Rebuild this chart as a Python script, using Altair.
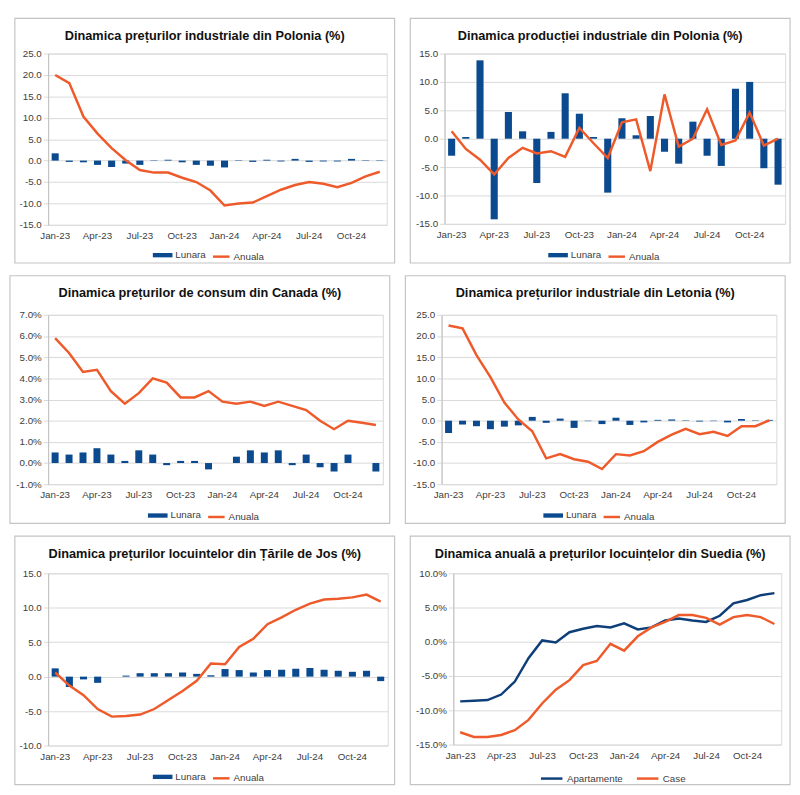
import altair as alt
import pandas as pd

MONTHS = ['Jan-23', 'Feb-23', 'Mar-23', 'Apr-23', 'May-23', 'Jun-23',
          'Jul-23', 'Aug-23', 'Sep-23', 'Oct-23', 'Nov-23', 'Dec-23',
          'Jan-24', 'Feb-24', 'Mar-24', 'Apr-24', 'May-24', 'Jun-24',
          'Jul-24', 'Aug-24', 'Sep-24', 'Oct-24', 'Nov-24', 'Dec-24']
XTICKS = ['Jan-23', 'Apr-23', 'Jul-23', 'Oct-23', 'Jan-24', 'Apr-24', 'Jul-24', 'Oct-24']

# Polonia - preturi industriale
pl_ppi_lunara = [1.7, -0.3, -0.4, -1.0, -1.5, -0.7, -1.0, -0.1, 0.2, -0.4, -1.0, -1.2,
                 -1.6, 0.1, -0.3, 0.2, -0.2, 0.4, -0.3, -0.2, -0.2, 0.4, 0.1, -0.1]
pl_ppi_anuala = [20.0, 18.1, 10.3, 6.3, 2.9, 0.1, -2.2, -2.8, -2.8, -4.0, -5.0, -7.0,
                 -10.5, -10.0, -9.8, -8.3, -6.8, -5.7, -5.0, -5.4, -6.2, -5.2, -3.7, -2.6]

# Polonia - productie industriala
pl_ip_lunara = [-3.0, 0.3, 13.8, -14.2, 4.7, 1.3, -7.8, 1.2, 8.0, 4.4, 0.3, -9.5,
                3.6, 0.6, 4.0, -2.3, -4.4, 3.0, -3.0, -4.8, 8.8, 10.0, -5.2, -8.1]
pl_ip_anuala = [1.3, -1.8, -3.7, -6.3, -3.4, -1.6, -2.6, -2.2, -3.2, 1.9, -0.8, -3.4,
                2.9, 3.4, -5.7, 7.8, -1.4, 0.0, 5.2, -1.1, -0.3, 4.6, -1.2, 0.0]

# Canada - preturi de consum
ca_cpi_lunara = [0.5, 0.4, 0.5, 0.7, 0.4, 0.1, 0.6, 0.4, -0.1, 0.1, 0.1, -0.3,
                 0.0, 0.3, 0.6, 0.5, 0.6, -0.1, 0.4, -0.2, -0.4, 0.4, 0.0, -0.4]
ca_cpi_anuala = [5.9, 5.2, 4.3, 4.4, 3.4, 2.8, 3.3, 4.0, 3.8, 3.1, 3.1, 3.4,
                 2.9, 2.8, 2.9, 2.7, 2.9, 2.7, 2.5, 2.0, 1.6, 2.0, 1.9, 1.8]

# Letonia - preturi industriale
lv_ppi_lunara = [-2.9, -0.9, -1.3, -2.0, -1.4, -1.1, 0.9, -0.5, 0.5, -1.7, -0.1, -0.8,
                 0.7, -1.0, -0.4, 0.2, 0.3, 0.1, -0.2, -0.1, -0.4, 0.4, 0.1, 0.2]
lv_ppi_anuala = [22.5, 21.8, 15.5, 10.3, 4.3, 0.3, -2.5, -8.9, -7.9, -9.1, -9.7, -11.4,
                 -7.9, -8.2, -7.2, -5.0, -3.3, -1.9, -3.2, -2.6, -3.6, -1.3, -1.3, 0.1]

# Tarile de Jos - preturi locuinte
nl_hp_lunara = [1.2, -1.5, -0.4, -0.9, 0.0, 0.15, 0.5, 0.5, 0.5, 0.6, 0.4, 0.2,
                1.1, 0.95, 0.6, 0.95, 1.0, 1.15, 1.25, 1.0, 0.85, 0.7, 0.85, -0.65]
nl_hp_anuala = [0.6, -1.3, -2.7, -4.7, -5.8, -5.7, -5.5, -4.7, -3.4, -2.1, -0.6, 1.9,
                1.8, 4.3, 5.5, 7.6, 8.6, 9.7, 10.6, 11.2, 11.3, 11.5, 11.9, 10.9]

# Suedia - preturi locuinte (anual)
se_apartamente = [-8.7, -8.6, -8.5, -7.7, -5.8, -2.4, 0.2, -0.1, 1.4, 1.9, 2.3, 2.1,
                  2.7, 1.8, 2.1, 3.1, 3.4, 3.1, 2.9, 3.8, 5.6, 6.1, 6.8, 7.1]
se_case = [-13.2, -13.9, -13.9, -13.6, -12.9, -11.4, -9.0, -7.0, -5.6, -3.4, -2.8, -0.3,
           -1.3, 0.8, 2.1, 2.9, 3.9, 3.9, 3.5, 2.5, 3.6, 3.9, 3.6, 2.6]

BLUE = '#0b4a8e'
ORANGE = '#ee5a2a'
NAVY = '#0f3f78'
FONT = 'Liberation Sans'
TFONT = 'Liberation Sans'
LABEL_COLOR = '#404040'
ONE = pd.DataFrame({'f': [0]})


def num_expr(pct):
    base = "(datum.value < 0 ? '-' : '') + format(abs(datum.value), '.1f')"
    return base + (" + '%'" if pct else "")


def x_enc():
    return alt.X('m:N', scale=alt.Scale(domain=MONTHS, paddingInner=0.5, paddingOuter=0.25),
                 axis=alt.Axis(values=XTICKS, title=None, labelAngle=0, ticks=False, grid=False,
                               domain=False, labelPadding=6, labelOverlap=False))


def y_enc(lo, hi, step, pct):
    vals = [lo + i * step for i in range(int(round((hi - lo) / step)) + 1)]
    return alt.Y('v:Q', scale=alt.Scale(domain=[lo, hi], nice=False, zero=False),
                 axis=alt.Axis(values=vals, title=None, labelExpr=num_expr(pct), tickSize=5,
                               labelPadding=2, grid=True))


def legend(x, y, sym, off, **kw):
    return alt.Legend(orient='none', legendX=x, legendY=y, title=None, symbolType=sym,
                      symbolSize=144, labelFont=FONT, labelFontSize=10, labelColor=LABEL_COLOR,
                      labelOffset=off, padding=0, **kw)


def decor(title, W, H, L, R, T, B):
    FW = L + W + R
    frame = alt.Chart(ONE).mark_rect(fillOpacity=0, stroke='#c4c4c4', strokeWidth=1.2).encode(
        x=alt.value(-L), x2=alt.value(W + R), y=alt.value(-T), y2=alt.value(H + B))
    ttl = alt.Chart(ONE).mark_text(text=title, font=TFONT, fontWeight='bold', fontSize=13,
                                   align='center', baseline='alphabetic', color='#111111').encode(
        x=alt.value(-L + FW / 2), y=alt.value(-T + 22))
    return frame, ttl


def bar_line_panel(title, lunara, anuala, lo, hi, step, pct, W, H, L, R, T, B):
    FC = -L + (L + W + R) / 2
    cy = H + B - 8
    dfb = pd.DataFrame({'m': MONTHS, 'v': lunara, 's': 'Lunara'})
    dfl = pd.DataFrame({'m': MONTHS, 'v': anuala, 's': 'Anuala'})
    bars = alt.Chart(dfb).mark_bar().encode(
        x=x_enc(), y=y_enc(lo, hi, step, pct),
        fill=alt.Fill('s:N', scale=alt.Scale(domain=['Lunara'], range=[BLUE]),
                      legend=legend(FC - 49, cy - 6, 'M-1.67,-0.37H1.67V0.37H-1.67Z', 7,
                                    symbolStrokeWidth=0)))
    line = alt.Chart(dfl).mark_line(strokeWidth=2.5).encode(
        x=x_enc(), y=y_enc(lo, hi, step, pct),
        stroke=alt.Stroke('s:N', scale=alt.Scale(domain=['Anuala'], range=[ORANGE]),
                          legend=legend(FC + 9.4, cy - 6, 'M-1.4,0H1.4', 5,
                                        symbolStrokeWidth=2.5)))
    frame, ttl = decor(title, W, H, L, R, T, B)
    return alt.layer(frame, bars, line, ttl).properties(width=W, height=H)


def two_line_panel(title, a, b, lo, hi, step, pct, W, H, L, R, T, B):
    FC = -L + (L + W + R) / 2
    cy = H + B - 8
    df = pd.concat([pd.DataFrame({'m': MONTHS, 'v': a, 's': 'Apartamente'}),
                    pd.DataFrame({'m': MONTHS, 'v': b, 's': 'Case'})])
    lines = alt.Chart(df).mark_line(strokeWidth=2.5).encode(
        x=x_enc(), y=y_enc(lo, hi, step, pct),
        stroke=alt.Stroke('s:N', scale=alt.Scale(domain=['Apartamente', 'Case'], range=[NAVY, ORANGE]),
                          legend=legend(FC - 57, cy - 6, 'M-1.83,0H1.83', 8,
                                        symbolStrokeWidth=2.5, direction='horizontal',
                                        columnPadding=8)))
    frame, ttl = decor(title, W, H, L, R, T, B)
    return alt.layer(frame, lines, ttl).properties(width=W, height=H)


p1 = bar_line_panel('Dinamica prețurilor industriale din Polonia (%)', pl_ppi_lunara, pl_ppi_anuala,
                    -15, 25, 5, False, W=346, H=175, L=34, R=8, T=36, B=39)
p2 = bar_line_panel('Dinamica producției industriale din Polonia (%)', pl_ip_lunara, pl_ip_anuala,
                    -15, 15, 5, False, W=348, H=174, L=35, R=5, T=36, B=40)
p3 = bar_line_panel('Dinamica prețurilor de consum din Canada (%)', ca_cpi_lunara, ca_cpi_anuala,
                    -1, 7, 1, True, W=342, H=173, L=39, R=7, T=40, B=40)
p4 = bar_line_panel('Dinamica prețurilor industriale din Letonia (%)', lv_ppi_lunara, lv_ppi_anuala,
                    -15, 25, 5, False, W=342, H=173, L=37, R=9, T=40, B=40)
p5 = bar_line_panel('Dinamica prețurilor locuintelor din Țările de Jos (%)', nl_hp_lunara, nl_hp_anuala,
                    -10, 15, 5, False, W=347, H=176, L=34, R=7, T=38, B=40)
p6 = two_line_panel('Dinamica anuală a prețurilor locuințelor din Suedia (%)', se_apartamente, se_case,
                    -15, 10, 5, True, W=335, H=175, L=44, R=9, T=38, B=41)


def row(a, b):
    return alt.hconcat(a, b, spacing=12).resolve_scale(
        fill='independent', stroke='independent').resolve_legend(
        fill='independent', stroke='independent')


chart = alt.vconcat(row(p1, p2), row(p3, p4), row(p5, p6), spacing=9).resolve_scale(
    fill='independent', stroke='independent').resolve_legend(
    fill='independent', stroke='independent').properties(padding=0).configure_view(
    stroke='#d9d9d9').configure_axis(
    labelFont=FONT, labelFontSize=10, labelColor=LABEL_COLOR, gridColor='#d9d9d9',
    domainColor='#bfbfbf', tickColor='#d9d9d9')

chart.save('out.html', embed_options={'renderer': 'svg', 'actions': False})
